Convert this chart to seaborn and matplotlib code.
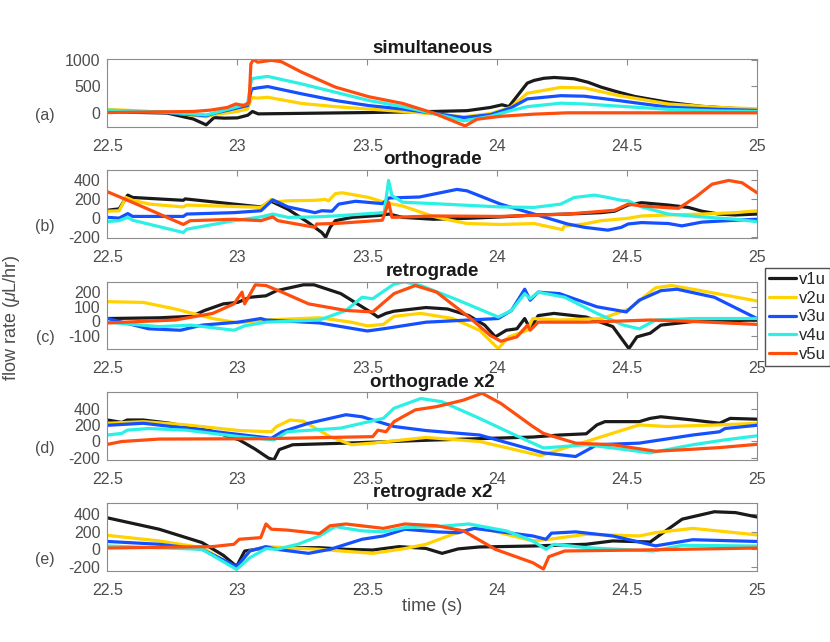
import pandas as pd
import matplotlib
matplotlib.use('Agg')
import matplotlib.pyplot as plt
from matplotlib.lines import Line2D
import seaborn as sns

# valve names / colours
valves = ['v1u', 'v2u', 'v3u', 'v4u', 'v5u']
colors = ['#1a1a1a', '#FFD200', '#1450FF', '#2CF0E4', '#FF4D0D']

titles = ['simultaneous', 'orthograde', 'retrograde', 'orthograde x2', 'retrograde x2']
tags = ['(a)', '(b)', '(c)', '(d)', '(e)']
xticks = [22.5, 23, 23.5, 24, 24.5, 25]
xtick_labels = ['22.5', '23', '23.5', '24', '24.5', '25']

# (a) simultaneous
a_t1 = [22.5, 22.73, 22.83, 22.88, 22.91, 22.95, 23.0, 23.04, 23.058, 23.08, 23.25, 23.5, 23.755,
        23.884, 23.974, 24.019, 24.045, 24.116, 24.142, 24.18, 24.22, 24.297, 24.35, 24.40, 24.46,
        24.53, 24.659, 24.788, 25.0]
a_v1u = [25, 0, -110, -220, -85, -95, -90, -40, 30, -15, -5, 10, 30, 45, 105, 155, 120, 560, 610, 650,
         665, 640, 575, 485, 400, 310, 200, 125, 60]
a_t2 = [22.5, 22.73, 22.88, 22.91, 23.0, 23.039, 23.055, 23.078, 23.117, 23.247, 23.377, 23.506, 23.636,
        23.766, 23.871, 23.974, 24.052, 24.116, 24.245, 24.336, 24.465, 24.659, 24.853, 25.0]
a_v2u = [70, 15, -70, -30, 30, 75, 290, 280, 295, 180, 120, 75, 30, -20, -70, -10, 105, 370, 480, 470,
         330, 170, 105, 80]
a_t3 = a_t2
a_v3u = [45, 10, -50, -5, 95, 140, 450, 470, 495, 360, 235, 140, 75, -10, -85, -30, 95, 265, 325, 315,
         235, 110, 70, 50]
a_t4 = a_t2
a_v4u = [55, 15, -35, 0, 120, 170, 640, 660, 685, 545, 390, 235, 120, -20, -145, -60, 45, 120, 185, 170,
         130, 70, 40, 30]
a_t5 = [22.5, 22.831, 22.896, 22.961, 22.994, 23.026, 23.045, 23.052, 23.062, 23.078, 23.13, 23.169,
        23.247, 23.377, 23.506, 23.636, 23.755, 23.877, 23.922, 24.013, 24.142, 24.271, 25.0]
a_v5u = [10, 30, 55, 105, 170, 140, 200, 920, 1000, 950, 985, 960, 765, 485, 305, 180, 0, -240, -115,
         -60, -20, 5, 5]

# (b) orthograde
b_t1 = [22.5, 22.545, 22.578, 22.597, 22.792, 22.799, 22.987, 23.091, 23.13, 23.195, 23.273, 23.325,
        23.34, 23.357, 23.377, 23.442, 23.545, 23.584, 23.636, 23.755, 23.884, 24.013, 24.142, 24.271,
        24.40, 24.452, 24.504, 24.556, 24.659, 24.736, 24.788, 24.853, 24.917, 25.0]
b_v1u = [80, 95, 240, 215, 185, 200, 145, 115, 175, 90, -50, -155, -205, -100, -30, 5, 25, 40, 5, -15,
         -5, 10, 30, 40, 55, 70, 135, 160, 135, 110, 70, 40, 30, 40]
b_t2 = [22.5, 22.545, 22.571, 22.597, 22.662, 22.792, 22.805, 22.987, 23.091, 23.13, 23.149, 23.195,
        23.299, 23.338, 23.351, 23.377, 23.403, 23.506, 23.571, 23.636, 23.755, 23.819, 23.884, 24.013,
        24.142, 24.252, 24.258, 24.336, 24.40, 24.504, 24.556, 24.659, 24.788, 24.917, 25.0]
b_v2u = [70, 75, 215, 185, 145, 115, 135, 120, 110, 195, 170, 180, 185, 195, 180, 255, 265, 215, 160,
         125, 15, -25, -60, -70, -60, -125, -85, -65, -30, -5, 20, 30, 40, 55, 75]
b_t3 = [22.5, 22.545, 22.578, 22.597, 22.792, 22.805, 22.987, 23.091, 23.136, 23.195, 23.299, 23.325,
        23.364, 23.39, 23.455, 23.558, 23.584, 23.701, 23.755, 23.845, 23.884, 24.013, 24.142, 24.271,
        24.336, 24.426, 24.478, 24.504, 24.556, 24.659, 24.711, 24.788, 24.917, 25.0]
b_v3u = [5, -3, 45, 15, 15, 40, 55, 75, 190, 115, 55, 75, 70, 145, 175, 150, 210, 220, 250, 300, 285,
         145, 40, -65, -100, -130, -100, -65, -50, -60, -85, -45, -25, -15]
b_t4 = [22.5, 22.545, 22.578, 22.597, 22.792, 22.805, 22.987, 23.091, 23.136, 23.195, 23.299, 23.377,
        23.506, 23.565, 23.582, 23.595, 23.636, 23.755, 24.013, 24.142, 24.245, 24.297, 24.375, 24.426,
        24.478, 24.504, 24.556, 24.659, 24.788, 24.917, 25.0]
b_v4u = [-40, -30, 5, -25, -155, -120, -30, 10, 40, 5, 10, 20, 45, 55, 395, 235, 165, 150, 115, 110,
         145, 215, 240, 215, 185, 180, 115, 40, 10, -15, -40]
b_t5 = [22.5, 22.578, 22.792, 22.818, 22.987, 23.091, 23.136, 23.156, 23.299, 23.305, 23.377, 23.558,
        23.582, 23.595, 23.755, 24.013, 24.271, 24.452, 24.504, 24.556, 24.698, 24.762, 24.827, 24.891,
        24.943, 25.0]
b_v5u = [275, 185, -70, -30, -15, -30, 10, -30, -100, -65, -60, -25, 165, 5, 20, 15, 40, 80, 145, 125,
         100, 215, 355, 395, 370, 265]

# (c) retrograde
c_t1 = [22.5, 22.699, 22.823, 22.874, 22.946, 23.001, 23.048, 23.11, 23.151, 23.254, 23.295, 23.398,
        23.48, 23.521, 23.541, 23.572, 23.603, 23.726, 23.809, 23.891, 23.952, 23.993, 24.035, 24.076,
        24.106, 24.127, 24.158, 24.219, 24.343, 24.445, 24.507, 24.538, 24.589, 24.63, 24.753, 25.0]
c_v1u = [20, 25, 35, 75, 120, 130, 165, 175, 210, 250, 250, 190, 100, 55, 30, 55, 70, 95, 85, 40, -25,
         -105, -60, -50, 20, -50, 40, 55, 30, -35, -185, -105, -80, -25, 0, 10]
c_t2 = [22.5, 22.638, 22.761, 22.905, 23.001, 23.11, 23.316, 23.439, 23.5, 23.562, 23.603, 23.706,
        23.829, 23.932, 24.004, 24.045, 24.117, 24.137, 24.24, 24.404, 24.507, 24.61, 24.671, 24.753, 25.0]
c_v2u = [135, 130, 85, 20, -10, 10, 25, -5, -30, -20, 35, 55, 20, -60, -185, -105, -60, 20, 10, 20, 85,
         230, 245, 220, 140]
c_t3 = [22.5, 22.658, 22.781, 22.864, 23.001, 23.038, 23.09, 23.11, 23.316, 23.5, 23.562, 23.726,
        24.004, 24.055, 24.106, 24.127, 24.158, 24.24, 24.384, 24.497, 24.547, 24.63, 24.692, 24.836, 25.0]
c_v3u = [20, -50, -60, -25, -5, 5, 20, 10, -10, -65, -50, -5, 20, 75, 220, 145, 200, 190, 100, 65, 145,
         210, 220, 165, 20]
c_t4 = [22.5, 22.699, 22.823, 22.987, 23.028, 23.11, 23.316, 23.418, 23.48, 23.521, 23.603, 23.644,
        23.706, 23.85, 24.004, 24.055, 24.106, 24.127, 24.158, 24.26, 24.384, 24.486, 24.547, 24.61,
        24.753, 25.0]
c_v4u = [-5, -35, -25, -60, -30, -5, 10, 75, 165, 155, 255, 270, 245, 145, 30, 75, 190, 155, 200, 165,
         55, -25, -50, 10, 20, 20]
c_t5 = [22.5, 22.761, 22.905, 22.987, 23.018, 23.028, 23.069, 23.11, 23.172, 23.274, 23.418, 23.521,
        23.603, 23.685, 23.767, 23.891, 23.973, 24.014, 24.076, 24.117, 24.127, 24.158, 24.343, 24.589,
        24.753, 25.0]
c_v5u = [-10, 10, 55, 120, 200, 120, 250, 245, 200, 120, 75, 65, 190, 245, 200, 30, -95, -135, -105,
         -25, -60, -5, -5, 10, 0, -20]

# (d) orthograde x2
d_t1 = [22.5, 22.555, 22.576, 22.638, 22.74, 22.905, 23.007, 23.069, 23.12, 23.141, 23.161, 23.213,
        23.418, 23.726, 24.137, 24.24, 24.343, 24.384, 24.415, 24.547, 24.589, 24.63, 24.753, 24.856,
        24.897, 25.0]
d_v1u = [265, 235, 265, 265, 225, 125, 20, -95, -205, -225, -100, -40, -20, 15, 55, 80, 95, 205, 245,
         245, 285, 305, 265, 225, 285, 275]
d_t2 = [22.5, 22.638, 22.802, 23.007, 23.131, 23.151, 23.203, 23.254, 23.357, 23.439, 23.521, 23.726,
        23.932, 24.168, 24.26, 24.343, 24.547, 24.651, 24.856, 25.0]
d_v2u = [225, 245, 205, 135, 120, 185, 265, 250, 60, -40, -20, 50, 0, -175, -80, 0, 205, 185, 205, 225]
d_t3 = [22.5, 22.638, 22.905, 23.131, 23.172, 23.274, 23.418, 23.48, 23.603, 23.726, 23.932, 24.178,
        24.302, 24.384, 24.547, 24.753, 24.856, 24.877, 25.0]
d_v3u = [200, 225, 125, 40, 120, 225, 330, 305, 185, 135, 80, -140, -185, -40, -20, 80, 120, 160, 200]
d_t4 = [22.5, 22.555, 22.576, 22.658, 22.802, 23.007, 23.141, 23.192, 23.398, 23.562, 23.603, 23.706,
        23.788, 23.932, 24.055, 24.178, 24.343, 24.445, 24.589, 24.753, 24.877, 25.0]
d_v4u = [80, 100, 140, 160, 140, 60, 20, 120, 165, 285, 410, 530, 490, 285, 100, -80, -40, -80, -140,
         -40, 20, 70]
d_t5 = [22.5, 22.555, 22.699, 23.11, 23.521, 23.541, 23.572, 23.603, 23.685, 23.767, 23.87, 23.942,
        24.014, 24.137, 24.178, 24.302, 24.445, 24.61, 24.753, 24.856, 25.0]
d_v5u = [-35, 0, 30, 35, 60, 140, 120, 245, 390, 430, 510, 595, 470, 185, 100, -20, -40, -120, -95, -75,
         -35]

# (e) retrograde x2
e_t1 = [22.5, 22.699, 22.864, 22.946, 22.997, 23.028, 23.11, 23.316, 23.418, 23.521, 23.623, 23.726,
        23.788, 23.85, 23.932, 24.137, 24.343, 24.445, 24.589, 24.63, 24.712, 24.836, 24.918, 25.0]
e_v1u = [360, 230, 77, -69, -195, -20, 19, 19, 0, -8, 31, 10, -46, 5, 27, 38, 58, 96, 84, 172, 345, 430,
         420, 370]
e_t2 = [22.5, 22.699, 22.864, 22.997, 23.048, 23.11, 23.316, 23.521, 23.644, 23.726, 23.829, 23.87,
        23.932, 24.137, 24.199, 24.343, 24.547, 24.61, 24.753, 25.0]
e_v2u = [160, 96, 19, -211, -19, 31, 0, -46, 8, 58, 172, 211, 249, 96, 115, 172, 153, 191, 240, 165]
e_t3 = [22.5, 22.699, 22.864, 22.997, 23.048, 23.11, 23.151, 23.274, 23.357, 23.48, 23.562, 23.644,
        23.767, 23.85, 23.911, 24.137, 24.188, 24.209, 24.302, 24.445, 24.61, 24.753, 25.0]
e_v3u = [90, 58, 0, -199, -19, 31, 0, -46, 0, 115, 153, 230, 200, 190, 240, 153, 115, 185, 200, 153, 40,
         110, 90]
e_t4 = [22.5, 22.864, 22.997, 23.048, 23.11, 23.151, 23.233, 23.316, 23.377, 23.48, 23.562, 23.644,
        23.767, 23.891, 24.035, 24.137, 24.188, 24.219, 24.343, 24.6, 24.712, 25.0]
e_v4u = [38, 0, -230, -96, 8, 0, 58, 153, 260, 211, 200, 249, 260, 290, 211, 96, 0, 58, 19, -19, 46, 38]
e_t5 = [22.5, 22.905, 22.987, 23.007, 23.09, 23.11, 23.131, 23.192, 23.316, 23.357, 23.418, 23.562,
        23.644, 23.767, 23.87, 23.993, 24.137, 24.178, 24.199, 24.26, 24.547, 25.0]
e_v5u = [15, 31, 58, 115, 134, 290, 230, 220, 180, 270, 290, 240, 290, 270, 211, 0, -153, -225, -84,
         -19, -8, 15]

panels = [
    [(a_t1, a_v1u), (a_t2, a_v2u), (a_t3, a_v3u), (a_t4, a_v4u), (a_t5, a_v5u)],
    [(b_t1, b_v1u), (b_t2, b_v2u), (b_t3, b_v3u), (b_t4, b_v4u), (b_t5, b_v5u)],
    [(c_t1, c_v1u), (c_t2, c_v2u), (c_t3, c_v3u), (c_t4, c_v4u), (c_t5, c_v5u)],
    [(d_t1, d_v1u), (d_t2, d_v2u), (d_t3, d_v3u), (d_t4, d_v4u), (d_t5, d_v5u)],
    [(e_t1, e_v1u), (e_t2, e_v2u), (e_t3, e_v3u), (e_t4, e_v4u), (e_t5, e_v5u)],
]
ylims = [(-255, 1010), (-210, 505), (-190, 272), (-228, 607), (-245, 530)]
yticks = [[0, 500, 1000], [-200, 0, 200, 400], [-100, 0, 100, 200], [-200, 0, 200, 400],
          [-200, 0, 200, 400]]
bottoms = [0.8026, 0.6297, 0.4559, 0.2835, 0.1110]

sns.set_style('white')
plt.rcParams['font.family'] = ['Liberation Sans', 'DejaVu Sans']
plt.rcParams['mathtext.fontset'] = 'custom'
plt.rcParams['mathtext.it'] = 'Liberation Sans:italic'
plt.rcParams['mathtext.rm'] = 'Liberation Sans'
plt.rcParams['axes.unicode_minus'] = False

gray_txt = '#4d4d4d'
gray_ax = '#8c8c8c'

fig = plt.figure(figsize=(8.3, 6.42), dpi=100)

for i, series in enumerate(panels):
    rows = []
    for name, (t, v) in zip(valves, series):
        rows.append(pd.DataFrame({'time': t, 'flow': v, 'valve': name}))
    df = pd.concat(rows, ignore_index=True)

    ax = fig.add_axes([0.1295, bottoms[i], 0.7825, 0.1055])
    sns.lineplot(data=df, x='time', y='flow', hue='valve', hue_order=valves, palette=colors,
                 linewidth=2.3, estimator=None, sort=False, legend=False, ax=ax)
    ax.set_xlim(22.5, 25)
    ax.set_ylim(*ylims[i])
    ax.set_xticks(xticks, xtick_labels)
    ax.set_yticks(yticks[i])
    ax.set_xlabel('')
    ax.set_ylabel('')
    ax.tick_params(direction='in', length=4, width=0.8, colors=gray_ax, labelcolor=gray_txt,
                   labelsize=11.5, top=True, right=True)
    ax.tick_params(axis='x', pad=8.5)
    ax.tick_params(axis='y', pad=5)
    for sp in ax.spines.values():
        sp.set_color(gray_ax)
        sp.set_linewidth(0.8)
    ax.set_title(titles[i], fontsize=13.5, fontweight='bold', color='#1a1a1a', pad=4)
    ax.text(-0.0963, 0.17, tags[i], transform=ax.transAxes, ha='center', va='center',
            fontsize=11.5, color=gray_txt)

fig.text(0.014, 0.505, 'flow rate ($\\mu$L/hr)', rotation=90, ha='center', va='center',
         fontsize=13, color=gray_txt)
fig.text(0.5205, 0.055, 'time (s)', ha='center', va='center', fontsize=13, color=gray_txt)

handles = [Line2D([0], [0], color=c, lw=2.3) for c in colors]
fig.legend(handles, valves, loc='upper left', bbox_to_anchor=(0.9217, 0.5826), frameon=True,
           fancybox=False, edgecolor='#262626', fontsize=12, handlelength=1.6,
           handletextpad=0.2, borderpad=0.25, labelspacing=0.22, borderaxespad=0)

fig.savefig('out.png', dpi=100)
